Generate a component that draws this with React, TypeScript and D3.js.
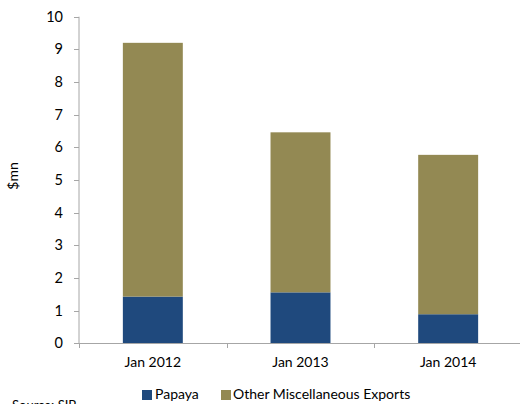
import React from "react";
import * as d3 from "d3";

const categories = ["Jan 2012", "Jan 2013", "Jan 2014"];
const papaya = [1.43, 1.56, 0.89];
const otherMisc = [7.77, 4.9, 4.88];
const yTicks = [0, 1, 2, 3, 4, 5, 6, 7, 8, 9, 10];
const seriesNames = ["Papaya", "Other Miscellaneous Exports"];
const colors = ["#1f497d", "#938953"];

const W = 520;
const H = 404;
const FONT = "Lato, 'Open Sans', sans-serif";

export default function App() {
  const x = d3.scaleBand<string>().domain(categories).range([79, 522]).paddingInner(0.594).paddingOuter(0.297);
  const y = d3.scaleLinear().domain([0, 10]).range([343.3, 16.7]);
  const data = categories.map((c, i) => ({ cat: c, papaya: papaya[i], other: otherMisc[i] }));
  const stack = d3.stack<any>().keys(["papaya", "other"])(data);
  const step = x.step();
  const catTicks = categories.map((_, i) => 79 + i * step).concat([79 + 3 * step]);

  return (
    <svg width={W} height={H} style={{ position: "absolute", left: 0, top: 0, overflow: "hidden", background: "#fff" }} fontFamily={FONT}>
      {stack.map((s, si) =>
        s.map((d, i) => (
          <rect
            key={si + "-" + i}
            x={x(categories[i])}
            y={y(d[1])}
            width={x.bandwidth()}
            height={y(d[0]) - y(d[1])}
            fill={colors[si]}
          />
        ))
      )}
      {/* y axis */}
      <line x1={79} x2={79} y1={y(10)} y2={y(0)} stroke="#a6a6a6" strokeWidth={1} />
      {yTicks.map((t) => (
        <g key={t}>
          <line x1={74} x2={79} y1={Math.round(y(t)) + 0.5} y2={Math.round(y(t)) + 0.5} stroke="#a6a6a6" />
          <text x={63} y={y(t)} dy="0.35em" textAnchor="end" fontSize={14.5} fill="#000">
            {t}
          </text>
        </g>
      ))}
      {/* x axis */}
      <line x1={79} x2={522} y1={343.5} y2={343.5} stroke="#a6a6a6" />
      {catTicks.map((t, i) => (
        <line key={i} x1={Math.round(t) + 0.5} x2={Math.round(t) + 0.5} y1={343} y2={348} stroke="#a6a6a6" />
      ))}
      {categories.map((c) => (
        <text key={c} x={(x(c) as number) + x.bandwidth() / 2} y={367} textAnchor="middle" fontSize={14} fill="#000">
          {c}
        </text>
      ))}
      <text transform="translate(18,176) rotate(-90)" textAnchor="middle" fontSize={14} fill="#000">
        $mn
      </text>
      {/* legend */}
      <rect x={142} y={390} width={10} height={10} fill={colors[0]} />
      <text x={155} y={399} fontSize={14} fill="#000">{seriesNames[0]}</text>
      <rect x={221} y={390} width={10} height={10} fill={colors[1]} />
      <text x={233} y={399} fontSize={14} fill="#000">{seriesNames[1]}</text>
      <text x={12} y={410} fontSize={13} fill="#000">Source: SIB</text>
    </svg>
  );
}
